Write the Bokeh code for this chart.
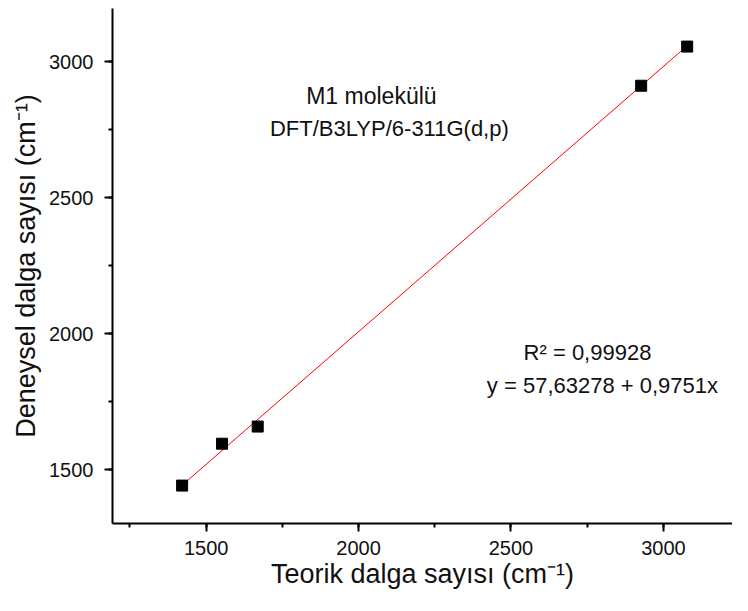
from bokeh.plotting import figure
from bokeh.models import SingleIntervalTicker, Range1d, Label, ColumnDataSource
from bokeh.embed import file_html
from bokeh.resources import INLINE

# Data
teorik = [1421, 1552, 1669, 2927, 3078]
deneysel = [1442, 1596, 1659, 2912, 3056]
fit_a = 57.63278
fit_b = 0.9751
tick_interval = 500
x_label = "Teorik dalga sayısı (cm⁻¹)"
y_label = "Deneysel dalga sayısı (cm⁻¹)"
note_lines = ["M1 molekülü", "DFT/B3LYP/6-311G(d,p)"]
stat_lines = ["R² = 0,99928", "y = 57,63278 + 0,9751x"]

FONT = "Liberation Sans"
TXT = "#111111"

p = figure(width=732, height=595, output_backend="svg", toolbar_location=None,
           x_range=Range1d(1192.6, 3226.7), y_range=Range1d(1302.6, 3196),
           min_border_left=112, min_border_bottom=72, min_border_top=8, min_border_right=0)
p.outline_line_color = None
p.xgrid.visible = False
p.ygrid.visible = False
p.background_fill_color = "white"
p.border_fill_color = "white"

for ax in (p.xaxis[0], p.yaxis[0]):
    ax.ticker = SingleIntervalTicker(interval=tick_interval, num_minor_ticks=2)
    ax.axis_line_width = 2
    ax.axis_line_color = "black"
    ax.major_tick_line_width = 2
    ax.minor_tick_line_width = 2
    ax.major_tick_line_color = "black"
    ax.minor_tick_line_color = "black"
    ax.major_tick_out = 8
    ax.major_tick_in = 0
    ax.minor_tick_out = 4
    ax.minor_tick_in = 0
    ax.major_label_text_font = FONT
    ax.major_label_text_font_size = "20px"
    ax.major_label_text_color = TXT
    ax.axis_label_text_font = FONT
    ax.axis_label_text_font_size = "27px"
    ax.axis_label_text_font_style = "normal"
    ax.axis_label_text_color = TXT

p.xaxis.axis_label = x_label
p.yaxis.axis_label = y_label
p.xaxis.major_label_standoff = 9
p.yaxis.major_label_standoff = 11
p.xaxis.axis_label_standoff = 1
p.yaxis.axis_label_standoff = 5
p.yaxis.major_label_orientation = "horizontal"

xs_fit = [min(teorik), max(teorik)]
ys_fit = [fit_a + fit_b * v for v in xs_fit]
p.line(xs_fit, ys_fit, line_color="#ff0000", line_width=1)

src = ColumnDataSource(dict(x=teorik, y=deneysel))
p.scatter("x", "y", source=src, marker="square", size=11,
          fill_color="black", line_color="black")

labels = [
    (note_lines[0], 2042, 2876, "23px"),
    (note_lines[1], 2101, 2755, "22px"),
    (stat_lines[0], 2751, 1930, "22px"),
    (stat_lines[1], 2800, 1810, "22px"),
]
for txt, lx, ly, fs in labels:
    p.add_layout(Label(x=lx, y=ly, text=txt, text_align="center",
                       text_baseline="alphabetic", text_font=FONT,
                       text_font_size=fs, text_color=TXT))

open("out.html", "w").write(file_html(p, INLINE))
